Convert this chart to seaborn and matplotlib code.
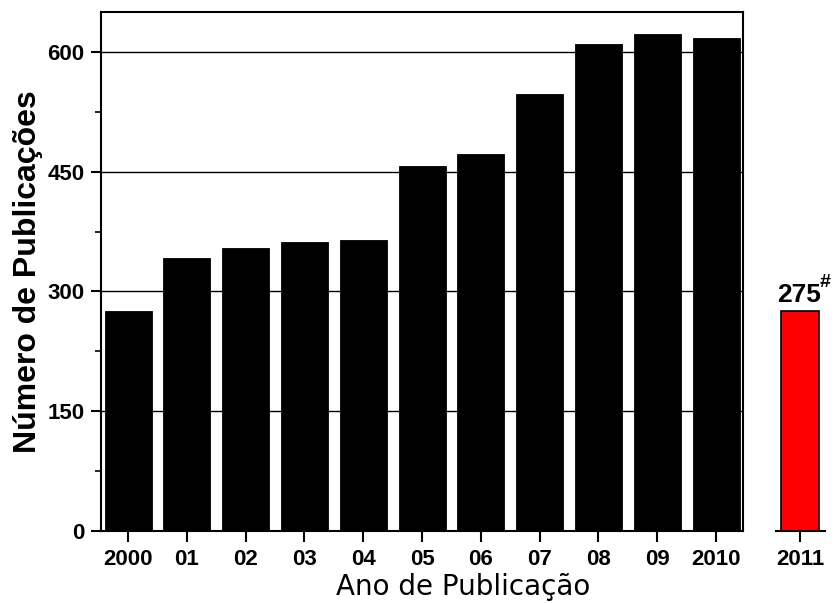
import numpy as np
import matplotlib
matplotlib.use('Agg')
import matplotlib.pyplot as plt
import seaborn as sns
from matplotlib.ticker import MultipleLocator

# Data
years = ['2000', '01', '02', '03', '04', '05', '06', '07', '08', '09', '2010']
publications = [275, 342, 354, 362, 365, 457, 472, 547, 610, 622, 617]
partial_year = ['2011']
partial_count = [275]

sns.set_style('ticks')
plt.rcParams['font.family'] = ['Liberation Sans', 'DejaVu Sans']
plt.rcParams['axes.linewidth'] = 1.5
plt.rcParams['text.color'] = 'black'
plt.rcParams['axes.labelcolor'] = 'black'
plt.rcParams['xtick.color'] = 'black'
plt.rcParams['ytick.color'] = 'black'

fig = plt.figure(figsize=(8.35, 6.03), dpi=100)
ax = fig.add_axes([0.121, 0.1194, 0.769, 0.8607])
ax2 = fig.add_axes([0.929, 0.1194, 0.0587, 0.8607])

# Main chart: 2000-2010
sns.barplot(x=years, y=publications, color='black', saturation=1, width=0.8,
            edgecolor='black', linewidth=0.6, ax=ax)
ax.set_xlim(-0.46, 10.46)
ax.set_ylim(0, 650)
ax.yaxis.set_major_locator(MultipleLocator(150))
ax.yaxis.set_minor_locator(MultipleLocator(75))
ax.set_axisbelow(True)
ax.grid(axis='y', which='major', color='black', linewidth=1)
for s in ax.spines.values():
    s.set_color('black')
    s.set_linewidth(1.5)
ax.tick_params(axis='both', which='major', direction='out', length=7, width=1.5,
               labelsize=16, pad=5, colors='black')
ax.tick_params(axis='y', which='minor', direction='out', length=4, width=1.2, color='black')
ax.tick_params(axis='x', length=8)
for lbl in ax.get_xticklabels() + ax.get_yticklabels():
    lbl.set_fontweight('bold')
ax.set_xlabel('')
ax.set_ylabel('Número de Publicações', fontsize=23, fontweight='bold', color='black')
ax.yaxis.set_label_coords(-0.09, 0.5)

# Partial year 2011
sns.barplot(x=partial_year, y=partial_count, color='red', saturation=1, width=0.8,
            edgecolor='black', linewidth=1.2, ax=ax2)
ax2.set_xlim(-0.516, 0.516)
ax2.set_ylim(0, 650)
for side in ['left', 'right', 'top']:
    ax2.spines[side].set_visible(False)
ax2.spines['bottom'].set_linewidth(1.5)
ax2.spines['bottom'].set_color('black')
ax2.set_yticks([])
ax2.tick_params(axis='x', direction='out', length=8, width=1.5, labelsize=16, pad=5,
                colors='black')
for lbl in ax2.get_xticklabels():
    lbl.set_fontweight('bold')
ax2.set_xlabel('')
ax2.set_ylabel('')
ax2.annotate(str(partial_count[0]), xy=(0, partial_count[0]), xytext=(-1, 3),
             textcoords='offset points', ha='center', va='bottom',
             fontsize=19, fontweight='bold', color='black', annotation_clip=False)
ax2.annotate('#', xy=(0, partial_count[0]), xytext=(14, 15),
             textcoords='offset points', ha='left', va='bottom',
             fontsize=14, fontweight='bold', color='black', annotation_clip=False)

fig.text(0.5545, 0.0133, 'Ano de Publicação', ha='center', va='baseline',
         fontsize=20, family=['DejaVu Sans'], color='black')

fig.savefig('out.png', dpi=100)
